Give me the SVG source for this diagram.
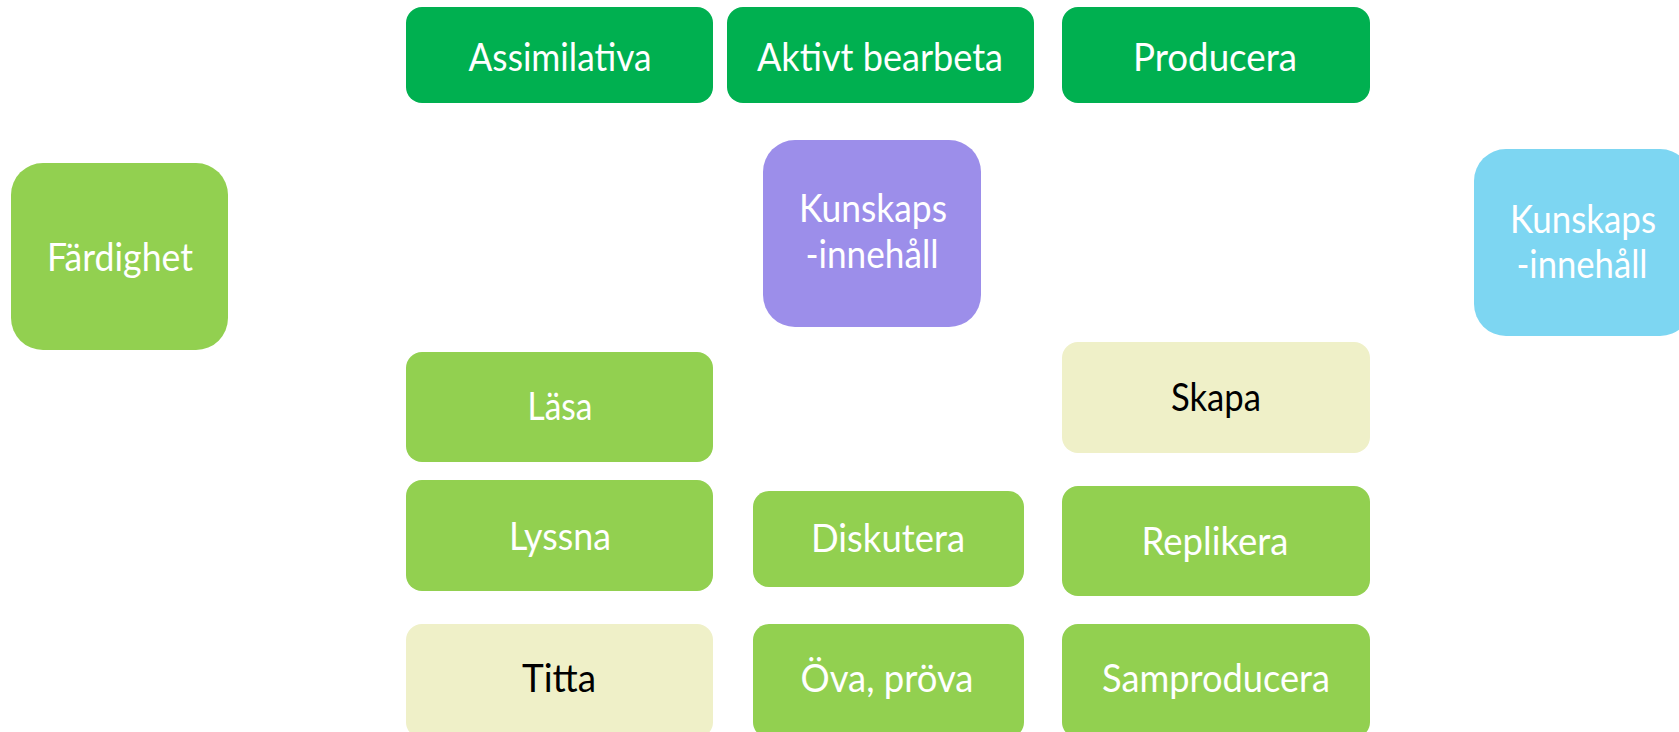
<svg xmlns="http://www.w3.org/2000/svg" width="1679" height="732" viewBox="0 0 1679 732">
<style>
text{font-family:Lato,"Open Sans","Liberation Sans",sans-serif;font-size:39px;text-anchor:middle;fill:#ffffff}
.dark{fill:#00B050}
.light{fill:#92D050}
.cream{fill:#EFF0C8}
.purple{fill:#9C8EEA}
.blue{fill:#7DD6F2}
text.blk{fill:#000000}
</style>
<rect width="1679" height="732" fill="#ffffff"/>
<g id="connectors"></g>
<g id="assimilativa"><rect class="dark" x="406" y="7" width="307" height="96" rx="16"/><text x="560" y="71" textLength="183" lengthAdjust="spacingAndGlyphs">Assimilativa</text></g>
<g id="aktivt"><rect class="dark" x="727" y="7" width="307" height="96" rx="16"/><text x="880" y="71" textLength="246" lengthAdjust="spacingAndGlyphs">Aktivt bearbeta</text></g>
<g id="producera"><rect class="dark" x="1062" y="7" width="308" height="96" rx="16"/><text x="1215" y="71" textLength="164" lengthAdjust="spacingAndGlyphs">Producera</text></g>
<g id="fardighet"><rect class="light" x="11" y="163" width="217" height="187" rx="32"/><text x="120" y="271" textLength="146" lengthAdjust="spacingAndGlyphs">Färdighet</text></g>
<g id="kunskaps1"><rect class="purple" x="763" y="140" width="218" height="187" rx="32"/><text x="873" y="222" textLength="148" lengthAdjust="spacingAndGlyphs">Kunskaps</text><text x="872" y="268" textLength="133" lengthAdjust="spacingAndGlyphs">-innehåll</text></g>
<g id="kunskaps2"><rect class="blue" x="1474" y="149" width="218" height="187" rx="32"/><text x="1583" y="233" textLength="146" lengthAdjust="spacingAndGlyphs">Kunskaps</text><text x="1582" y="278" textLength="131" lengthAdjust="spacingAndGlyphs">-innehåll</text></g>
<g id="lasa"><rect class="light" x="406" y="352" width="307" height="110" rx="16"/><text x="560" y="420" textLength="65" lengthAdjust="spacingAndGlyphs">Läsa</text></g>
<g id="lyssna"><rect class="light" x="406" y="480" width="307" height="111" rx="16"/><text x="560" y="550" textLength="102" lengthAdjust="spacingAndGlyphs">Lyssna</text></g>
<g id="titta"><rect class="cream" x="406" y="624" width="307" height="114" rx="16"/><text class="blk" x="559" y="692" textLength="74" lengthAdjust="spacingAndGlyphs">Titta</text></g>
<g id="diskutera"><rect class="light" x="753" y="491" width="271" height="96" rx="16"/><text x="888" y="552" textLength="154" lengthAdjust="spacingAndGlyphs">Diskutera</text></g>
<g id="ova"><rect class="light" x="753" y="624" width="271" height="114" rx="16"/><text x="887" y="692" textLength="173" lengthAdjust="spacingAndGlyphs">Öva, pröva</text></g>
<g id="skapa"><rect class="cream" x="1062" y="342" width="308" height="111" rx="16"/><text class="blk" x="1216" y="411" textLength="90" lengthAdjust="spacingAndGlyphs">Skapa</text></g>
<g id="replikera"><rect class="light" x="1062" y="486" width="308" height="110" rx="16"/><text x="1215" y="555" textLength="147" lengthAdjust="spacingAndGlyphs">Replikera</text></g>
<g id="samproducera"><rect class="light" x="1062" y="624" width="308" height="114" rx="16"/><text x="1216" y="692" textLength="228" lengthAdjust="spacingAndGlyphs">Samproducera</text></g>
</svg>
